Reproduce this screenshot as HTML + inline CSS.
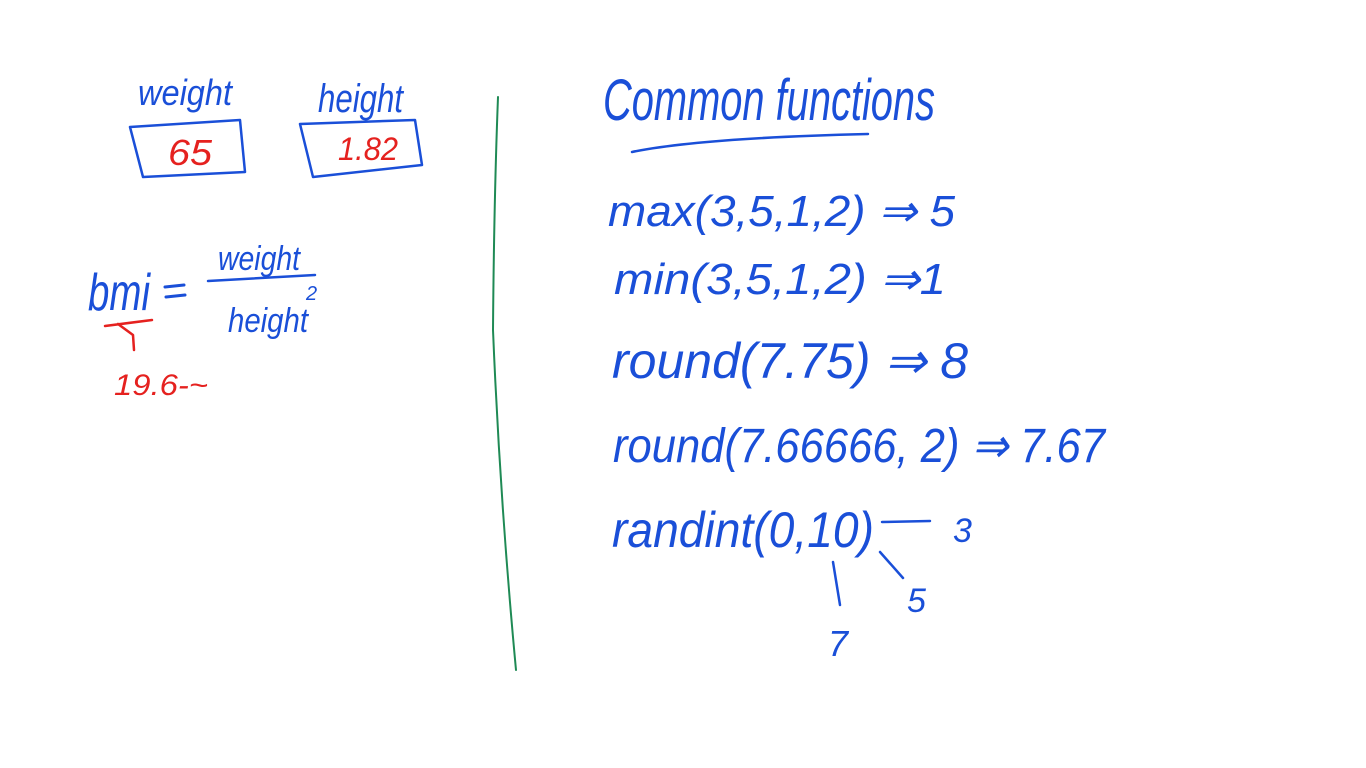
<!DOCTYPE html>
<html><head><meta charset="utf-8"><style>
html,body{margin:0;padding:0;background:#fff;width:1366px;height:768px;overflow:hidden}
text{font-family:"Liberation Sans",sans-serif;font-style:italic}
.b{fill:#1a4fd8}.r{fill:#e5211f}
</style></head><body>
<svg width="1366" height="768" viewBox="0 0 1366 768">
<g fill="none" stroke-linecap="round" stroke-linejoin="round">
<path d="M130 127 L240 120 L245 172 L143 177 Z" stroke="#1a4fd8" stroke-width="2.5"/>
<path d="M300 124 L415 120 L422 165 L313 177 Z" stroke="#1a4fd8" stroke-width="2.5"/>
<path d="M208 281 L315 275" stroke="#1a4fd8" stroke-width="2.5"/>
<path d="M165 287 L184 285 M166 297 L185 295" stroke="#1a4fd8" stroke-width="3"/>
<path d="M105 326 L152 320 M118 324 L133 335 L134 350" stroke="#e5211f" stroke-width="2.5"/>
<path d="M498 97 Q494 200 493 330 Q500 500 516 670" stroke="#1f8a55" stroke-width="2"/>
<path d="M632 152 Q700 138 868 134" stroke="#1a4fd8" stroke-width="2.5"/>
<path d="M882 522 L930 521 M880 552 L903 578 M833 562 L840 605" stroke="#1a4fd8" stroke-width="2.5"/>
</g>
<text class="b" x="138" y="105" font-size="36" textLength="94" lengthAdjust="spacingAndGlyphs">weight</text>
<text class="r" x="168" y="165" font-size="36" textLength="44" lengthAdjust="spacingAndGlyphs">65</text>
<text class="b" x="318" y="112" font-size="40" textLength="85" lengthAdjust="spacingAndGlyphs">height</text>
<text class="r" x="338" y="160" font-size="32" textLength="60" lengthAdjust="spacingAndGlyphs">1.82</text>
<text class="b" x="88" y="310" font-size="52" textLength="62" lengthAdjust="spacingAndGlyphs">bmi</text>
<text class="b" x="218" y="270" font-size="34" textLength="82" lengthAdjust="spacingAndGlyphs">weight</text>
<text class="b" x="228" y="332" font-size="34" textLength="80" lengthAdjust="spacingAndGlyphs">height</text>
<text class="b" x="306" y="300" font-size="20">2</text>
<text class="r" x="114" y="395" font-size="30" textLength="94" lengthAdjust="spacingAndGlyphs">19.6-~</text>
<text class="b" x="603" y="120" font-size="58" textLength="332" lengthAdjust="spacingAndGlyphs">Common functions</text>
<text class="b" x="608" y="226" font-size="44" textLength="347" lengthAdjust="spacingAndGlyphs">max(3,5,1,2) ⇒ 5</text>
<text class="b" x="614" y="294" font-size="44" textLength="332" lengthAdjust="spacingAndGlyphs">min(3,5,1,2) ⇒1</text>
<text class="b" x="612" y="378" font-size="50" textLength="356" lengthAdjust="spacingAndGlyphs">round(7.75) ⇒ 8</text>
<text class="b" x="613" y="462" font-size="48" textLength="492" lengthAdjust="spacingAndGlyphs">round(7.66666, 2) ⇒ 7.67</text>
<text class="b" x="612" y="547" font-size="50" textLength="262" lengthAdjust="spacingAndGlyphs">randint(0,10)</text>
<text class="b" x="953" y="542" font-size="34">3</text>
<text class="b" x="907" y="612" font-size="34">5</text>
<text class="b" x="828" y="656" font-size="36">7</text>
</svg>
</body></html>
